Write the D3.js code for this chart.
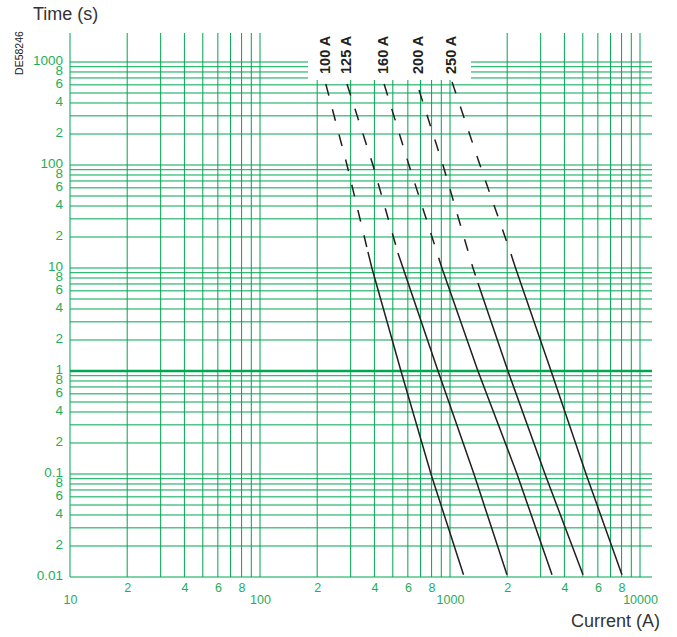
<!DOCTYPE html>
<html>
<head>
<meta charset="utf-8">
<script src="https://cdn.jsdelivr.net/npm/d3@7"></script>
<style>
  body { margin: 0; background: #fff; }
  svg { display: block; font-family: "Liberation Sans", Arial, sans-serif; }
</style>
</head>
<body>
<svg id="chart" width="677" height="637"></svg>
<script>
const ratingLabels = ['100 A', '125 A', '160 A', '200 A', '250 A'];

// [current (A), time (s)]
const dashed100 = [[222, 611], [287, 100], [370, 14.3]];
const solid100 = [[370, 14.3], [388, 10], [552, 1], [794, 0.1], [1178, 0.0105]];
const dashed125 = [[287, 611], [393, 100], [532, 14]];
const solid125 = [[532, 14], [566, 10], [865, 1], [1337, 0.1], [1995, 0.0105]];
const dashed160 = [[450, 611], [608, 100], [907, 10]];
const solid160 = [[907, 10], [1403, 1], [2253, 0.1], [3443, 0.0105]];
const dashed200 = [[687, 535], [918, 100], [1321, 10], [1403, 7.15]];
const solid200 = [[1403, 7.15], [2018, 1], [3162, 0.1], [5012, 0.0105]];
const dashed250 = [[1025, 640], [1438, 100], [2094, 13.7]];
const solid250 = [[2094, 13.7], [2213, 10], [3404, 1], [5200, 0.1], [8035, 0.0105]];

const xMajorTicks = [10, 100, 1000, 10000];
const xMinorTicks = [20, 40, 60, 80, 200, 400, 600, 800, 2000, 4000, 6000, 8000];
const yMajorTicks = [1000, 100, 10, 1, 0.1, 0.01];
const yMinorTicks = [800, 600, 400, 200, 80, 60, 40, 20, 8, 6, 4, 2, 0.8, 0.6, 0.4, 0.2, 0.08, 0.06, 0.04, 0.02];

const curves = ratingLabels.map((label, i) => ({
  label,
  dashed: [dashed100, dashed125, dashed160, dashed200, dashed250][i],
  solid: [solid100, solid125, solid160, solid200, solid250][i],
}));

const green = '#00a651';
const labelGreen = '#1fae57';
const plotLeft = 70, plotRight = 652, plotTop = 33, plotBottom = 577;

const xScale = d3.scaleLog().domain([10, 10000]).range([70, 640]);
const yScale = d3.scaleLog().domain([0.01, 1000]).range([577, 62]);

const svg = d3.select('#chart');

// grid
svg.append('g')
  .selectAll('line')
  .data(yScale.ticks(20))
  .enter()
  .append('line')
  .attr('x1', plotLeft)
  .attr('x2', plotRight)
  .attr('y1', (d) => yScale(d))
  .attr('y2', (d) => yScale(d))
  .attr('stroke', green)
  .attr('stroke-width', (d) => (d === 1 ? 2.5 : 1));

svg.append('g')
  .selectAll('line')
  .data(xScale.ticks(20))
  .enter()
  .append('line')
  .attr('x1', (d) => xScale(d))
  .attr('x2', (d) => xScale(d))
  .attr('y1', plotTop)
  .attr('y2', plotBottom)
  .attr('stroke', green)
  .attr('stroke-width', 1);

// white patch behind the rating labels
svg.append('rect')
  .attr('x', 308)
  .attr('y', 0)
  .attr('width', 163)
  .attr('height', 80)
  .attr('fill', '#fff');

// curves
const line = d3.line()
  .x((d) => xScale(d[0]))
  .y((d) => yScale(d[1]));

const gCurves = svg.append('g')
  .selectAll('g')
  .data(curves)
  .enter()
  .append('g');

gCurves.append('path')
  .attr('d', (d) => line(d.dashed))
  .attr('fill', 'none')
  .attr('stroke', '#231f20')
  .attr('stroke-width', 1.5)
  .attr('stroke-dasharray', '12,14');

gCurves.append('path')
  .attr('d', (d) => line(d.solid))
  .attr('fill', 'none')
  .attr('stroke', '#231f20')
  .attr('stroke-width', 1.5);

gCurves.append('text')
  .attr('transform', (d) => `translate(${xScale(d.dashed[0][0]) - 1},74) rotate(-90)`)
  .attr('dy', '0.36em')
  .attr('font-size', 14.5)
  .attr('font-weight', 'bold')
  .attr('fill', '#231f20')
  .text((d) => d.label);

// axes labels
const leadDigit = (d) => String(Math.round(d / Math.pow(10, Math.floor(Math.log10(d) + 1e-9))));
const fmtY = (d) => (yMajorTicks.includes(d) ? String(d) : leadDigit(d));

const yAxis = svg.append('g')
  .attr('transform', `translate(${plotLeft},0)`)
  .call(d3.axisLeft(yScale)
    .tickValues(yMajorTicks.concat(yMinorTicks))
    .tickFormat(fmtY)
    .tickSize(0)
    .tickPadding(7));

const xMinorAxis = svg.append('g')
  .attr('transform', `translate(0,${plotBottom})`)
  .call(d3.axisBottom(xScale)
    .tickValues(xMinorTicks)
    .tickFormat(leadDigit)
    .tickSize(0)
    .tickPadding(6.5));

const xMajorAxis = svg.append('g')
  .attr('transform', `translate(0,${plotBottom})`)
  .call(d3.axisBottom(xScale)
    .tickValues(xMajorTicks)
    .tickFormat((d) => String(d))
    .tickSize(0)
    .tickPadding(18));

[yAxis, xMinorAxis, xMajorAxis].forEach((g) => {
  g.select('.domain').remove();
  g.attr('font-family', null);
  g.selectAll('text').attr('fill', labelGreen);
});
yAxis.attr('font-size', 13.5);
yAxis.selectAll('text').attr('dy', '0.22em');
xMinorAxis.attr('font-size', 12.5);
xMajorAxis.attr('font-size', 12.5);

// titles
svg.append('text')
  .attr('x', 33)
  .attr('y', 20)
  .attr('font-size', 18)
  .attr('fill', '#333')
  .text('Time (s)');

svg.append('text')
  .attr('x', 660)
  .attr('y', 627)
  .attr('text-anchor', 'end')
  .attr('font-size', 18)
  .attr('fill', '#333')
  .text('Current (A)');

svg.append('text')
  .attr('transform', 'translate(19,53) rotate(-90)')
  .attr('text-anchor', 'middle')
  .attr('dy', '0.36em')
  .attr('font-size', 10.5)
  .attr('fill', '#222')
  .text('DE58246');
</script>
</body>
</html>
